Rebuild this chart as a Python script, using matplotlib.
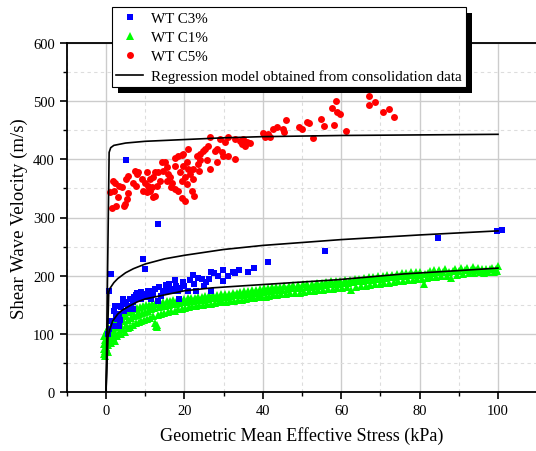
import numpy as np
import matplotlib
matplotlib.use("Agg")
import matplotlib.pyplot as plt
from matplotlib.patches import Rectangle
from matplotlib.transforms import IdentityTransform
from matplotlib.ticker import MultipleLocator

plt.rcParams['font.family'] = ['Liberation Serif', 'DejaVu Serif']

# WT C3% (blue squares)
c3_pts = [(0.68, 174), (1.28, 203), (5.1, 399), (13.2, 289), (9.35, 229), (9.95, 212),
          (0.85, 108), (1.7, 114), (2.55, 131), (3.23, 114), (3.4, 134), (2.98, 148),
          (2.38, 147), (4.25, 151), (4.68, 140), (5.1, 154), (5.53, 143), (5.95, 148),
          (6.38, 146), (6.8, 154), (6.8, 143), (7.23, 163), (7.65, 166), (8.08, 160),
          (8.5, 169), (8.93, 160), (9.35, 166), (10.2, 163), (10.63, 174), (11.05, 166),
          (11.9, 174), (12.58, 177), (13.18, 157), (13.6, 180), (14.46, 173), (15.3, 184),
          (15.73, 174), (16.58, 177), (17.43, 173), (17.69, 193), (17.86, 182), (18.28, 174),
          (18.71, 160), (19.73, 189), (19.98, 183), (20.83, 174), (22.11, 201), (22.53, 186),
          (22.96, 174), (24.49, 194), (25.08, 183), (25.5, 189), (26.36, 194), (26.79, 206),
          (27.64, 205), (26.79, 174), (29.76, 210), (29.76, 191), (32.3, 206), (34.0, 210),
          (36.1, 206), (37.8, 214), (41.4, 224), (55.9, 243), (84.8, 265), (99.8, 276),
          (100.9, 279), (2.0, 140), (3.8, 146), (4.4, 160), (6.0, 160), (7.0, 158),
          (8.0, 170), (9.0, 172), (10.5, 168), (11.5, 160), (12.0, 168), (1.0, 122),
          (2.8, 126), (0.5, 100), (14.0, 165), (16.0, 186), (21.5, 193), (23.5, 196),
          (28.5, 200), (31.0, 200), (33.0, 204), (19.0, 178), (3.5, 124)]

# WT C1% (green triangles)
c1_pts = [(-0.6, 66), (-0.5, 74), (-0.4, 82), (-0.3, 70), (-0.2, 90), (-0.1, 78), (0.0, 86),
          (0.1, 96), (0.2, 72), (0.3, 84), (0.4, 100), (0.5, 92), (0.6, 80), (0.7, 104),
          (0.8, 96), (0.9, 88), (1.0, 108), (1.1, 100), (1.2, 92), (-0.4, 96), (0.2, 106),
          (0.6, 110), (-0.2, 62), (0.4, 68),
          (1.4, 84), (1.5, 104), (1.6, 116), (1.8, 94), (1.9, 110), (2.0, 122), (2.2, 88),
          (2.3, 102), (2.4, 118), (2.6, 128), (2.8, 96), (2.9, 112), (3.0, 124), (3.2, 104),
          (3.4, 118), (3.5, 130), (3.7, 100), (3.9, 114), (4.0, 126), (4.2, 108), (4.4, 122),
          (4.5, 134),
          (4.8, 104), (5.0, 116), (5.2, 130), (5.5, 110), (5.7, 124), (5.9, 138), (6.2, 112),
          (6.4, 128), (6.6, 140), (6.9, 116), (7.1, 130), (7.3, 142), (7.6, 118), (7.8, 132),
          (8.0, 144), (8.3, 120), (8.5, 134), (8.7, 146), (9.0, 122), (9.2, 136), (9.4, 147),
          (9.7, 124), (9.9, 138), (10.1, 149),
          (10.5, 126), (10.7, 140), (10.9, 150), (11.3, 128), (11.5, 142), (11.7, 151),
          (12.1, 130), (12.3, 144), (12.5, 118), (12.7, 113), (12.9, 112), (13.1, 116),
          (12.6, 152), (13.3, 132), (13.5, 146), (13.7, 153), (14.1, 134), (14.3, 147),
          (14.5, 154), (14.9, 136), (15.1, 148),
          (15.5, 156), (15.8, 138), (16.0, 150), (16.3, 157), (16.6, 139), (16.9, 151),
          (17.2, 158), (17.5, 140), (17.8, 152), (18.1, 158), (18.4, 142), (18.7, 153),
          (19.0, 159), (19.3, 143), (19.6, 154), (19.9, 160), (20.2, 145), (20.5, 155),
          (20.8, 161), (21.1, 146), (21.4, 156), (21.7, 161), (22.0, 147), (22.3, 157),
          (22.6, 162), (22.9, 148), (23.2, 158), (23.5, 163), (23.8, 149), (24.1, 158),
          (24.4, 164), (24.7, 150), (25.0, 159),
          (25.3, 165), (25.7, 151), (26.0, 160), (26.3, 166), (26.7, 152), (27.0, 161),
          (27.3, 166), (27.7, 153), (28.0, 162), (28.3, 167), (28.7, 154), (29.0, 162),
          (29.3, 168), (29.7, 155), (30.0, 163), (30.3, 169), (30.7, 155), (31.0, 164),
          (31.3, 169), (31.7, 156), (32.0, 165), (32.3, 170), (32.7, 157), (33.0, 166),
          (33.3, 171), (33.7, 158), (34.0, 166), (34.3, 172), (34.7, 159), (35.0, 167),
          (35.3, 173), (35.7, 160), (36.0, 168), (36.3, 174), (36.7, 161), (37.0, 169),
          (37.3, 175), (37.7, 162), (38.0, 170), (38.3, 176), (38.7, 163), (39.0, 171),
          (39.3, 177), (39.7, 163), (40.0, 172), (40.3, 178), (40.7, 164), (41.0, 173),
          (41.3, 179), (41.7, 165), (42.0, 174), (42.3, 180), (42.7, 166), (43.0, 175),
          (43.3, 180), (43.7, 167), (44.0, 176), (44.3, 181), (44.7, 168), (45.0, 176),
          (45.4, 182), (45.8, 169), (46.2, 177), (46.6, 183), (47.0, 170), (47.4, 178),
          (47.8, 184), (48.2, 170), (48.6, 179), (49.0, 184), (49.4, 171), (49.8, 179),
          (50.2, 185), (50.6, 172), (51.0, 180), (51.4, 186), (51.8, 173), (52.2, 181),
          (52.6, 186), (53.0, 174), (53.4, 182), (53.8, 187), (54.2, 175), (54.6, 183),
          (55.0, 188),
          (55.4, 176), (55.8, 184), (56.2, 189), (56.6, 177), (57.0, 185), (57.4, 190),
          (57.8, 177), (58.2, 186), (58.6, 191), (59.0, 178), (59.4, 186), (59.8, 191),
          (60.2, 179), (60.6, 187), (61.0, 192), (61.4, 180), (61.8, 188), (62.2, 193),
          (62.6, 176), (63.0, 189), (63.4, 194), (63.8, 181), (64.2, 190), (64.6, 195),
          (65.0, 182), (65.4, 191), (65.8, 196), (66.2, 183), (66.6, 192), (67.0, 197),
          (67.4, 184), (67.8, 193), (68.2, 198), (68.6, 185), (69.0, 194), (69.4, 199),
          (69.8, 186), (70.2, 195), (70.6, 200), (71.0, 187), (71.4, 196), (71.8, 201),
          (72.2, 188), (72.6, 197), (73.0, 202), (73.4, 189), (73.8, 198), (74.2, 203),
          (74.6, 190),
          (75.0, 199), (75.4, 204), (75.8, 191), (76.2, 200), (76.6, 205), (77.0, 192),
          (77.4, 201), (77.8, 206), (78.2, 193), (78.6, 202), (79.0, 206), (79.4, 194),
          (79.8, 202), (80.2, 207), (80.6, 195), (81.0, 185), (81.4, 203), (81.8, 196),
          (82.2, 204), (82.6, 208), (83.0, 197), (83.4, 205), (83.8, 209), (84.2, 198),
          (84.6, 206), (85.0, 210),
          (85.5, 199), (86.0, 206), (86.5, 211), (87.0, 200), (87.5, 207), (88.0, 196),
          (88.5, 208), (89.0, 212), (89.5, 202), (90.0, 208), (90.5, 213), (91.0, 203),
          (91.5, 209), (92.0, 213), (92.5, 204), (93.0, 210), (93.5, 215), (94.0, 205),
          (94.5, 210), (95.0, 214), (95.5, 206), (96.0, 211), (96.5, 205), (97.0, 212),
          (97.5, 207), (98.0, 211), (98.5, 214), (99.0, 206), (99.5, 212), (100.0, 216),
          (99.8, 208)]

# WT C5% (red circles)
c5_pts = [(1.45, 317), (2.47, 319), (1.02, 344), (2.04, 346), (1.87, 363), (2.3, 360),
          (3.4, 355), (4.0, 352), (3.15, 335), (4.85, 323), (4.59, 319), (5.7, 342),
          (5.27, 332), (5.1, 367), (5.7, 371), (7.4, 380), (7.82, 375), (6.97, 360),
          (7.65, 355), (8.25, 378), (9.1, 366), (9.95, 360), (10.37, 378), (9.52, 346),
          (10.37, 343), (11.22, 346), (11.65, 352), (10.8, 355), (11.22, 366), (12.07, 369),
          (12.5, 378), (13.35, 378), (13.78, 363), (12.93, 355), (12.5, 337), (12.07, 335),
          (14.2, 395), (15.05, 395), (14.63, 380), (15.48, 386), (15.9, 375), (16.33, 369),
          (15.48, 363), (16.75, 360), (16.5, 352), (17.6, 349), (18.45, 346), (18.88, 378),
          (17.6, 389), (17.6, 403), (18.45, 406), (19.3, 407), (19.73, 409), (21.0, 418),
          (20.75, 395), (19.73, 389), (21.0, 383), (21.43, 375), (20.15, 369), (19.3, 363),
          (20.58, 358), (22.28, 366), (21.85, 346), (22.45, 337), (19.3, 333), (20.15, 329),
          (22.28, 383), (23.55, 392), (23.98, 398), (23.13, 406), (23.98, 409), (24.83, 415),
          (25.26, 418), (25.68, 398), (26.53, 384), (23.81, 380), (26.1, 423), (27.81, 415),
          (28.23, 418), (29.51, 412), (29.93, 406), (31.21, 406), (32.91, 400), (28.23, 396),
          (26.53, 438), (29.08, 435), (30.36, 429), (31.21, 439), (32.91, 435), (34.18, 432),
          (35.03, 435), (35.88, 429), (36.73, 428), (34.61, 426), (35.46, 423), (40.14, 446),
          (41.41, 443), (40.56, 438), (41.84, 438), (42.69, 452), (43.54, 455), (45.07, 452),
          (45.41, 447), (45.83, 467), (49.32, 455), (50.0, 453), (51.19, 465), (51.79, 462),
          (52.89, 437), (54.85, 470), (55.7, 457), (58.25, 459), (57.65, 488), (58.67, 501),
          (59.0, 481), (59.7, 478), (61.2, 449), (67.0, 509), (67.2, 493), (68.7, 499),
          (70.7, 482), (72.3, 487), (73.5, 472)]

# regression curves
reg5_x = [0, 0.8, 1.2, 2, 5, 10, 20, 30, 40, 60, 80, 100]
reg5_y = [0, 412, 420, 424, 428, 431, 434, 437, 439, 441, 442, 443]
reg3_x = [0, 0.7, 1, 2, 3, 5, 7, 10, 15, 20, 30, 40, 60, 80, 100]
reg3_y = [0, 172, 178, 188, 195, 205, 212, 220, 229, 235, 245, 252, 262, 270, 277]
reg1_x = [0, 0.5, 1, 1.7, 3, 4, 6, 8, 10, 15, 20, 27, 36, 43, 59, 76, 93, 100]
reg1_y = [0, 95, 108, 122, 134, 140, 148, 155, 160, 167, 174, 179, 183, 186, 193, 203, 210, 213]

fig = plt.figure(figsize=(5.36, 4.52), dpi=100)
ax = fig.add_axes([66.8 / 536, 59 / 452, 470.4 / 536, 349 / 452])

c1_x, c1_y = zip(*c1_pts)
c3_x, c3_y = zip(*c3_pts)
c5_x, c5_y = zip(*c5_pts)

h1, = ax.plot(c1_x, c1_y, linestyle='none', marker='^', markersize=5.8,
              color='#00ff00', markeredgewidth=0, label='WT C1%')
h3, = ax.plot(c3_x, c3_y, linestyle='none', marker='s', markersize=3.8,
              color='#0000ff', markeredgewidth=0, label='WT C3%')
h5, = ax.plot(c5_x, c5_y, linestyle='none', marker='o', markersize=5.0,
              color='#ff0000', markeredgewidth=0, label='WT C5%')

hr, = ax.plot(reg5_x, reg5_y, color='black', lw=1.2,
              label='Regression model obtained from consolidation data')
ax.plot(reg3_x, reg3_y, color='black', lw=1.2)
ax.plot(reg1_x, reg1_y, color='black', lw=1.2)

ax.set_xlim(-10, 110)
ax.set_ylim(0, 600)
ax.xaxis.set_major_locator(MultipleLocator(20))
ax.xaxis.set_minor_locator(MultipleLocator(10))
ax.yaxis.set_major_locator(MultipleLocator(100))
ax.yaxis.set_minor_locator(MultipleLocator(50))
ax.set_xticks([0, 20, 40, 60, 80, 100])

ax.grid(which='major', color='#cccccc', lw=1.0, ls='-')
ax.grid(which='minor', color='#dddddd', lw=0.8, ls=(0, (3, 3)))
ax.set_axisbelow(True)

for s in ['left', 'bottom', 'top']:
    ax.spines[s].set_linewidth(1.3)
ax.spines['right'].set_visible(False)
ax.tick_params(which='major', direction='out', length=5, width=1.2, labelsize=10.5,
               top=False, right=False)
ax.tick_params(which='minor', direction='out', length=3, width=1.0, top=False, right=False)

ax.set_xlabel('Geometric Mean Effective Stress (kPa)', fontsize=13)
ax.set_ylabel('Shear Wave Velocity (m/s)', fontsize=13.5)
ax.xaxis.set_label_coords(0.5, -0.098)
ax.yaxis.set_label_coords(-0.083, 0.5)

leg = ax.legend(handles=[h3, h1, h5, hr], loc='upper left',
                bbox_to_anchor=(0.096, 1.103), fontsize=10.8, frameon=True,
                fancybox=False, edgecolor='black', framealpha=1, borderaxespad=0,
                handlelength=1.75, handletextpad=0.55, labelspacing=0.38,
                borderpad=0.3, numpoints=1)
leg.get_frame().set_linewidth(0.8)
leg.set_zorder(10)

fig.canvas.draw()
bb = leg.get_window_extent()
shadow = Rectangle((bb.x0 + 6, bb.y0 - 6), bb.width, bb.height, transform=IdentityTransform(),
                   facecolor='black', edgecolor='none', zorder=9, clip_on=False)
ax.add_artist(shadow)

fig.savefig('out.png', dpi=100)
